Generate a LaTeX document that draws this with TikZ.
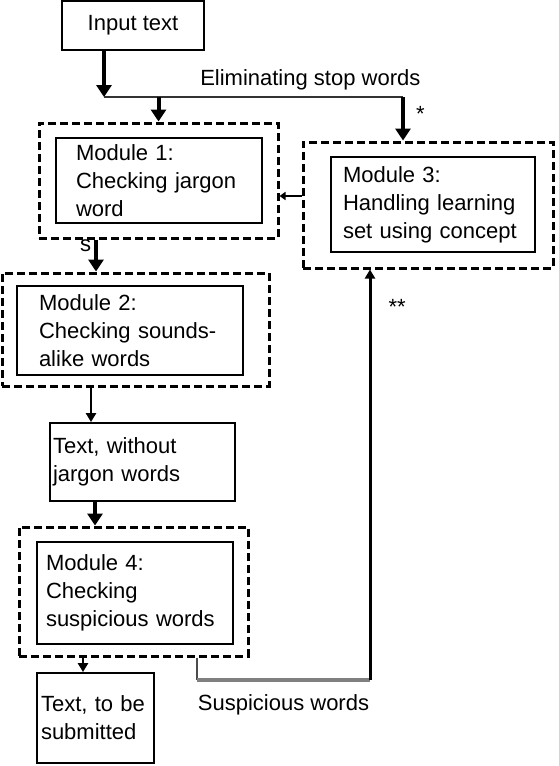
\documentclass[tikz,border=0pt]{standalone}
\usepackage{fontspec}
\setmainfont{Liberation Sans}
\usetikzlibrary{arrows.meta,positioning}

\begin{document}
\begin{tikzpicture}[x=1pt, y=-1pt, node distance=140pt, font=\fontsize{22}{28}\selectfont]
        \tikzstyle{block} = [rectangle, draw, line width=1.8pt, align=left, inner ysep=0pt]
        \tikzstyle{module} = [rectangle, draw, line width=3pt, dash pattern=on 8pt off 4pt]
        \tikzstyle{arrow} = [-{Triangle[width=15pt,length=12pt]}, line width=4pt]
        \tikzstyle{thinarrow} = [-{Triangle[width=10pt,length=9pt]}, line width=2.5pt]
        \tikzstyle{smallarrow} = [-{Triangle[width=8pt,length=6pt]}, line width=2pt]
        \tikzstyle{lbl} = [inner sep=1pt, text=black]
        \useasboundingbox (0,0) rectangle (558,766);
        \node (input) [block, align=center, minimum width=142pt, minimum height=49pt] at (133,25.5) {Input text};
        \node (m1) [module, below of=input, xshift=25.5pt, yshift=-15pt, minimum width=239pt, minimum height=115pt] {};
        \node (m2) [module, below of=m1, xshift=-23pt, yshift=-9pt, minimum width=267pt, minimum height=113pt] {};
        \node (txt1) [block, below of=m2, xshift=7pt, yshift=7.5pt, minimum width=185pt, minimum height=78pt, text width=179pt, inner xsep=3pt] {Text, without\\jargon words};
        \node (m4) [module, below of=txt1, xshift=-9pt, yshift=10.5pt, minimum width=229pt, minimum height=129pt] {};
        \node (txt2) [block, below of=m4, xshift=-38pt, yshift=13.5pt, minimum width=117pt, minimum height=90pt, text width=109pt, inner xsep=4pt] {Text, to be\\submitted};
        \node (m3) [module, right of=m1, xshift=129.5pt, yshift=-24.5pt, minimum width=250pt, minimum height=126pt] {};
        \node (m1in) [block, minimum width=206pt, minimum height=85pt, text width=166pt, inner xsep=20pt] at ([xshift=0.5pt]m1.center) {Module 1:\\Checking jargon\\word};
        \node (m2in) [block, minimum width=226pt, minimum height=89pt, text width=182pt, inner xsep=22pt] at ([xshift=-5.5pt, yshift=-1pt]m2.center) {Module 2:\\Checking sounds-\\alike words};
        \node (m3in) [block, minimum width=204pt, minimum height=95pt, text width=180pt, inner xsep=12pt] at ([xshift=5pt, yshift=0.5pt]m3.center) {Module 3:\\Handling learning\\set using concept};
        \node (m4in) [block, minimum width=196pt, minimum height=102pt, text width=178pt, inner xsep=9pt] at ([xshift=1.5pt, yshift=-1.5pt]m4.center) {Module 4:\\Checking\\suspicious words};
        \coordinate (split) at (104,97);
        \coordinate (fork) at (403,97);
        \coordinate (ret1) at (197,680);
        \coordinate (ret2) at (370,680);
        \draw[arrow] ([xshift=-29pt]input.south) -- (split);
        \draw[line width=2.5pt, black!80] (split) -- node[lbl, above=5pt, pos=0.69]{Eliminating stop words} (fork);
        \draw[arrow] (m1.north |- fork) -- (m1.north);
        \draw[arrow] (fork) -- node[lbl, right=10pt, pos=0.4]{*} (fork |- m3.north);
        \draw[arrow] ([xshift=-62.5pt]m1.south) -- node[lbl, left=2pt, pos=0.2]{s} ([xshift=-39.5pt]m2.north);
        \draw[smallarrow] ([yshift=9pt]m3.west) -- ([yshift=9pt]m3.west -| m1.east);
        \draw[thinarrow] ([xshift=-44.5pt]m2.south) -- ([xshift=-51.5pt]txt1.north);
        \draw[arrow] ([xshift=-47.5pt]txt1.south) -- ([xshift=-38.5pt]m4.north);
        \draw[thinarrow] ([xshift=-50.5pt]m4.south) -- ([xshift=-12.5pt]txt2.north);
        \draw[line width=2pt, black!70] ([xshift=63.5pt]m4.south) -- (ret1);
        \draw[line width=4pt, gray] (ret1) -- node[lbl, below=12pt]{Suspicious words} (ret2);
        \draw[thinarrow, line width=3pt] (ret2) -- node[lbl, right=16pt, pos=0.91]{**} ([xshift=-58pt]m3.south);
    \end{tikzpicture}
\end{document}
